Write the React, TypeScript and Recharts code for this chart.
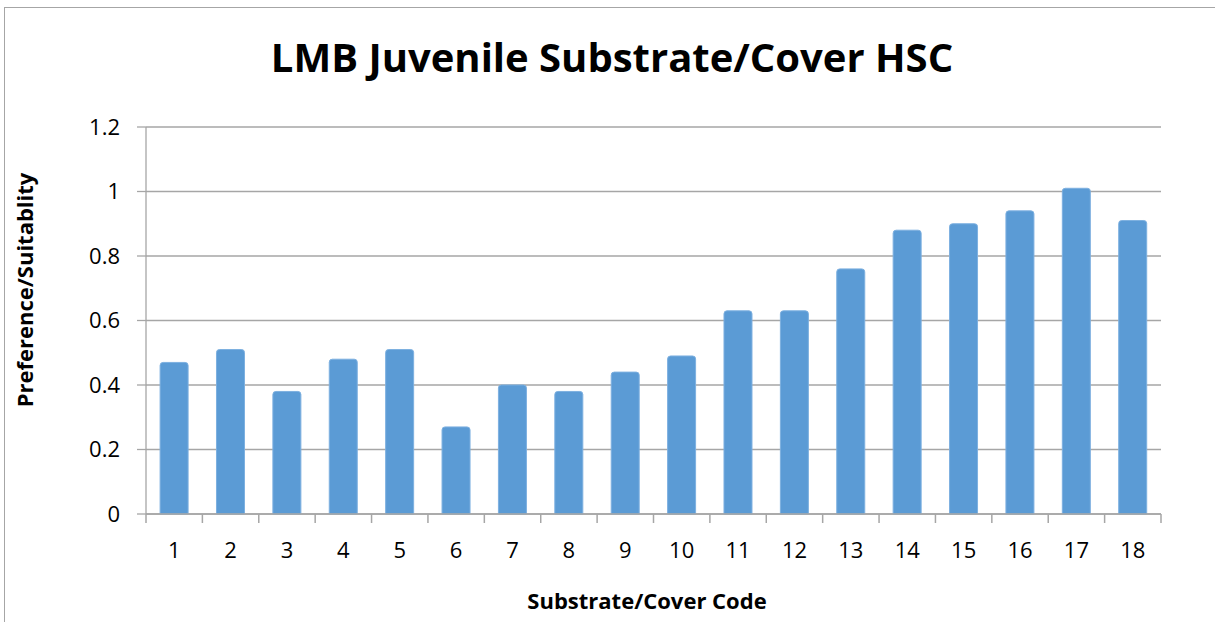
import React from 'react';
import { BarChart, Bar, XAxis, YAxis, CartesianGrid } from 'recharts';

const categories = ['1','2','3','4','5','6','7','8','9','10','11','12','13','14','15','16','17','18'];
const suitability = [0.47, 0.51, 0.38, 0.48, 0.51, 0.27, 0.40, 0.38, 0.44, 0.49, 0.63, 0.63, 0.76, 0.88, 0.90, 0.94, 1.01, 0.91];
const yTicks = [0, 0.2, 0.4, 0.6, 0.8, 1, 1.2];

const data = categories.map((c, i) => ({ code: c, value: suitability[i] }));

const W = 1215;
const H = 622;
const M = { top: 127, right: 54, left: 0, bottom: 0 };
const Y_W = 146;
const X_H = 108;
const GRAY = '#A6A6A6';
const FONT = '"Open Sans", "Noto Sans", sans-serif';
const plotW = W - M.left - M.right - Y_W;
const halfBand = plotW / categories.length / 2;

const XTick = (props: any) => {
  const { x, y, payload, index } = props;
  const last = index === categories.length - 1;
  return (
    <g>
      <line x1={x - halfBand} x2={x - halfBand} y1={y} y2={y + 9} stroke={GRAY} strokeWidth={1.5} />
      {last && <line x1={x + halfBand} x2={x + halfBand} y1={y} y2={y + 9} stroke={GRAY} strokeWidth={1.5} />}
      <text x={x} y={y + 44} textAnchor="middle" fontFamily={FONT} fontSize={22} fill="#000">{payload.value}</text>
    </g>
  );
};

export default function App() {
  return (
    <div style={{ position: 'absolute', left: 0, top: 0, width: W, height: H, background: '#fff', overflow: 'hidden' }}>
      <style>{`body{margin:0;overflow:hidden}`}</style>
      <div style={{ position: 'absolute', left: 4, top: 7, width: W + 20, height: H + 20, border: `1.5px solid ${GRAY}`, boxSizing: 'border-box' }} />
      <BarChart width={W} height={H} data={data} margin={M} barCategoryGap="25%">
        <CartesianGrid vertical={false} stroke={GRAY} strokeWidth={1.3} />
        <XAxis
          dataKey="code"
          height={X_H}
          tickLine={false}
          tickSize={0}
          tickMargin={0}
          axisLine={{ stroke: GRAY, strokeWidth: 1.5 }}
          tick={<XTick />}
          interval={0}
        />
        <YAxis
          width={Y_W}
          domain={[0, 1.2]}
          ticks={yTicks}
          tickSize={9}
          tickMargin={17}
          tickLine={{ stroke: GRAY, strokeWidth: 1.3 }}
          axisLine={{ stroke: GRAY, strokeWidth: 1.3 }}
          tick={{ fontFamily: FONT, fontSize: 22, fill: '#000' }}
        />
        <Bar dataKey="value" fill="#5B9BD5" stroke="#7DB0E0" strokeWidth={1} radius={[3, 3, 0, 0]} isAnimationActive={false} />
      </BarChart>
      <svg style={{ position: 'absolute', left: 0, top: 0, pointerEvents: 'none' }} width={W} height={H}>
        <text x={612} y={72} textAnchor="middle" fontFamily={FONT} fontWeight="bold" fontSize={40} fill="#000">LMB Juvenile Substrate/Cover HSC</text>
        <text x={647} y={609} textAnchor="middle" fontFamily={FONT} fontWeight="bold" fontSize={22} fill="#000">Substrate/Cover Code</text>
        <text transform="translate(33,290) rotate(-90)" textAnchor="middle" fontFamily={FONT} fontWeight="bold" fontSize={22} fill="#000">Preference/Suitablity</text>
      </svg>
    </div>
  );
}
